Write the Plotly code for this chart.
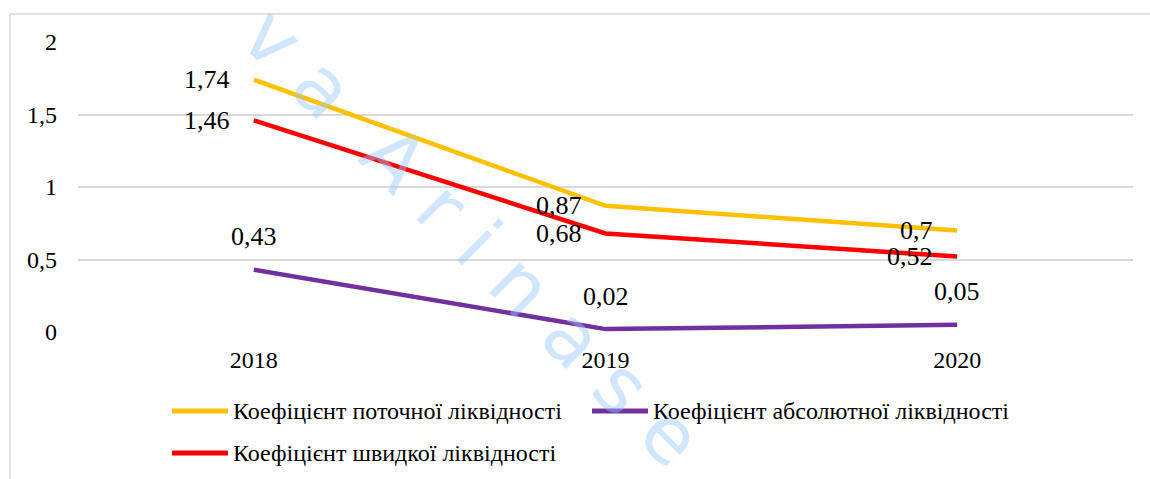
import plotly.graph_objects as go

years = ["2018", "2019", "2020"]
current_ratio = [1.74, 0.87, 0.70]
absolute_ratio = [0.43, 0.02, 0.05]
quick_ratio = [1.46, 0.68, 0.52]

name_current = "Коефіцієнт поточної ліквідності"
name_absolute = "Коефіцієнт абсолютної ліквідності"
name_quick = "Коефіцієнт швидкої ліквідності"

y_tickvals = [0, 0.5, 1, 1.5, 2]
y_ticktext = ["0", "0,5", "1", "1,5", "2"]

FONT = "Liberation Serif"

W, H = 1150, 479
ML, MR, MT, MB = 78, 17, 42, 147
PW = W - ML - MR
PH = H - MT - MB


def px_x(p):
    return (p - ML) / PW


def px_y(p):
    return (H - MB - p) / PH


def fmt(v):
    return ("%g" % v).replace(".", ",")


# (name, values, colour, label position, legend line start px, legend row y px)
series = [
    (name_current, current_ratio, "#FFC000", "left", 172, 411),
    (name_absolute, absolute_ratio, "#7030A0", "top", 592, 411),
    (name_quick, quick_ratio, "#FF0000", "left", 172, 453),
]

fig = go.Figure()
annotations = []
shapes = []
for name, vals, color, pos, lx, ly in series:
    fig.add_trace(go.Scatter(
        x=years, y=vals, name=name, mode="lines",
        line=dict(color=color, width=4.5), showlegend=False,
    ))
    for i, yv in enumerate(vals):
        a = dict(
            x=i, y=yv, xref="x", yref="y", text=fmt(yv), showarrow=False,
            font=dict(family=FONT, size=26, color="#000000"),
        )
        if pos == "left":
            a.update(xanchor="right", yanchor="middle", xshift=-22, yshift=0)
        else:
            a.update(xanchor="center", yanchor="middle", xshift=0, yshift=33)
        annotations.append(a)
    # legend entry
    shapes.append(dict(
        type="line", xref="paper", yref="paper",
        x0=px_x(lx), x1=px_x(lx + 56), y0=px_y(ly), y1=px_y(ly),
        line=dict(color=color, width=5),
    ))
    annotations.append(dict(
        x=px_x(lx + 59), y=px_y(ly), xref="paper", yref="paper",
        text=name, showarrow=False, xanchor="left", yanchor="middle",
        font=dict(family=FONT, size=24, color="#000000"),
    ))

# faint watermark
annotations.append(dict(
    x=px_x(472), y=px_y(237), xref="paper", yref="paper",
    text="v a  A r i n a s e", showarrow=False, textangle=45,
    font=dict(family="DejaVu Sans", size=78, color="rgba(150,200,255,0.45)"),
    xanchor="center", yanchor="middle",
))

shapes.append(dict(
    type="rect", xref="paper", yref="paper",
    x0=px_x(10), x1=px_x(1170), y0=px_y(500), y1=px_y(14),
    line=dict(color="#D9D9D9", width=1.5), fillcolor="rgba(0,0,0,0)",
    layer="below",
))

fig.update_layout(
    width=W, height=H,
    margin=dict(l=ML, r=MR, t=MT, b=MB),
    paper_bgcolor="white", plot_bgcolor="white",
    separators=", ",
    font=dict(family=FONT, size=24, color="#000000"),
    showlegend=False,
    xaxis=dict(
        type="category", range=[-0.5, 2.5], showgrid=False, zeroline=False,
        showline=False, ticks="", ticklabelstandoff=11,
        tickfont=dict(family=FONT, size=24, color="#000000"),
    ),
    yaxis=dict(
        range=[0, 2], tickvals=y_tickvals, ticktext=y_ticktext,
        showgrid=True, gridcolor="#D9D9D9", gridwidth=1.5,
        zeroline=False, showline=False, ticks="", ticklabelstandoff=20,
        tickfont=dict(family=FONT, size=24, color="#000000"),
    ),
    annotations=annotations,
    shapes=shapes,
)

fig.write_html(
    "out.html",
    config={"displayModeBar": False},
    post_script="document.body.style.margin='0';document.body.style.overflow='hidden';",
)
